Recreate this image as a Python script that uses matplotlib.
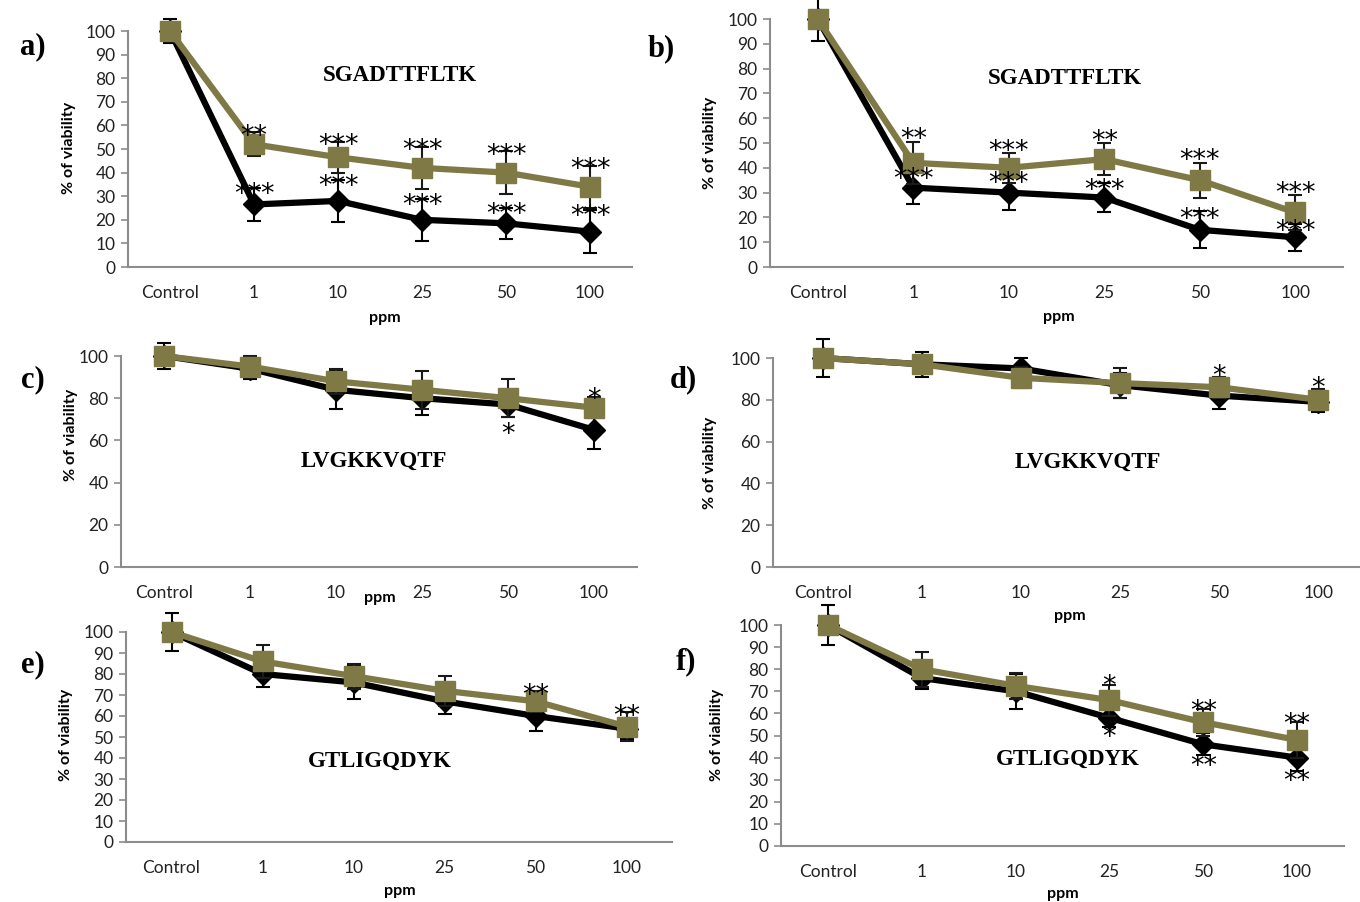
import matplotlib
matplotlib.use("Agg")
import matplotlib.pyplot as plt

categories = ["Control", "1", "10", "25", "50", "100"]

a_black = [100, 26.5, 28, 20, 18.5, 15]
a_black_err = [5, 7, 9, 9, 6.5, 9]
a_khaki = [100, 52, 46.5, 42, 40, 34]
a_khaki_err = [3, 5, 6.5, 9, 9, 9]
a_black_stars = ["", "***", "***", "***", "***", "***"]
a_khaki_stars = ["", "**", "***", "***", "***", "***"]

b_black = [100, 32, 30, 28, 15, 12]
b_black_err = [9, 6.5, 7, 6, 7.5, 5.5]
b_khaki = [100, 42, 40, 43.5, 35, 22]
b_khaki_err = [3, 8.5, 6, 6.5, 7, 7]
b_black_stars = ["", "***", "***", "***", "***", "***"]
b_khaki_stars = ["", "**", "***", "**", "***", "***"]

c_black = [100, 94, 84, 80, 77, 65]
c_black_err = [6, 5, 9, 8, 6, 9]
c_khaki = [100, 95, 88, 84, 80, 75.5]
c_khaki_err = [3, 5, 6, 9, 9, 5]
c_black_stars = ["", "", "", "", "*", ""]
c_khaki_stars = ["", "", "", "", "", "*"]

d_black = [100, 97, 95, 87, 82, 79]
d_black_err = [9, 6, 5, 6, 6.5, 5]
d_khaki = [100, 97, 90.5, 88, 86, 80]
d_khaki_err = [3, 3, 5, 7, 5, 5]
d_black_stars = ["", "", "", "", "", ""]
d_khaki_stars = ["", "", "", "", "*", "*"]

e_black = [100, 80, 76, 67, 60, 54]
e_black_err = [9, 6, 8, 6, 7, 5]
e_khaki = [100, 86, 79, 72, 67, 55]
e_khaki_err = [3, 8, 6, 7, 5, 7]
e_black_stars = ["", "", "", "", "", ""]
e_khaki_stars = ["", "", "", "", "**", "**"]

f_black = [100, 76, 70, 58, 46, 40]
f_black_err = [9, 5, 8, 4, 5, 6]
f_khaki = [100, 80, 72.5, 66, 56, 48]
f_khaki_err = [3, 8, 6, 7, 6, 8]
f_black_stars = ["", "", "", "*", "**", "**"]
f_khaki_stars = ["", "", "", "*", "**", "**"]

peptides = ["SGADTTFLTK", "SGADTTFLTK", "LVGKKVQTF", "LVGKKVQTF", "GTLIGQDYK", "GTLIGQDYK"]
letters = ["a)", "b)", "c)", "d)", "e)", "f)"]

W, H = 1360, 902
KHAKI = "#7f7946"
GRAY = "#8c8c8c"
TICKFONT = "Lato"
STARSIZE = 19.5

fig = plt.figure(figsize=(W / 100, H / 100), dpi=100)


def px_axes(left, top, right, bottom):
    return fig.add_axes([left / W, 1 - bottom / H, (right - left) / W, (bottom - top) / H])


panels = [
    dict(box=(128, 31, 632, 267), step=10, black=a_black, berr=a_black_err, khaki=a_khaki, kerr=a_khaki_err,
         bstars=a_black_stars, kstars=a_khaki_stars, bdir=1, koff=-3, boff=-5, title=(0.54, 0.81),
         letter=(33, 47), ppm=(385, 318), ylab=(69, 148)),
    dict(box=(770, 19, 1343, 267), step=10, black=b_black, berr=b_black_err, khaki=b_khaki, kerr=b_khaki_err,
         bstars=b_black_stars, kstars=b_khaki_stars, bdir=1, koff=1, boff=-6, title=(0.515, 0.76),
         letter=(661, 49), ppm=(1059, 317), ylab=(710, 143)),
    dict(box=(121, 356, 637, 567), step=20, black=c_black, berr=c_black_err, khaki=c_khaki, kerr=c_khaki_err,
         bstars=c_black_stars, kstars=c_khaki_stars, bdir=-1, koff=-2, boff=-13, title=(0.49, 0.50),
         letter=(33, 380), ppm=(380, 598), ylab=(71, 435)),
    dict(box=(773, 358, 1368, 567), step=20, black=d_black, berr=d_black_err, khaki=d_khaki, kerr=d_khaki_err,
         bstars=d_black_stars, kstars=d_khaki_stars, bdir=-1, koff=0, boff=-12, title=(0.53, 0.50),
         letter=(683, 380), ppm=(1070, 616), ylab=(710, 463)),
    dict(box=(126, 632, 672, 842), step=10, black=e_black, berr=e_black_err, khaki=e_khaki, kerr=e_khaki_err,
         bstars=e_black_stars, kstars=e_khaki_stars, bdir=-1, koff=-4, boff=-12, title=(0.465, 0.385),
         letter=(33, 665), ppm=(400, 891), ylab=(66, 735)),
    dict(box=(781, 625, 1344, 846), step=10, black=f_black, berr=f_black_err, khaki=f_khaki, kerr=f_khaki_err,
         bstars=f_black_stars, kstars=f_khaki_stars, bdir=-1, koff=-2, boff=-8, title=(0.51, 0.39),
         letter=(686, 662), ppm=(1063, 894), ylab=(717, 735)),
]

x = list(range(len(categories)))

for i, p in enumerate(panels):
    ax = px_axes(*p["box"])
    ax.set_xlim(-0.5, len(categories) - 0.5)
    ax.set_ylim(0, 100)
    ax.set_yticks(list(range(0, 101, p["step"])))
    ax.set_xticks(x)
    ax.set_xticklabels(categories)
    for s in ["top", "right"]:
        ax.spines[s].set_visible(False)
    for s in ["left", "bottom"]:
        ax.spines[s].set_color(GRAY)
        ax.spines[s].set_linewidth(1.5)
    ax.tick_params(axis="y", length=5, width=1.2, color=GRAY, pad=4, labelsize=12.5)
    ax.tick_params(axis="x", length=0, pad=13, labelsize=12.5)
    for lab in ax.get_xticklabels() + ax.get_yticklabels():
        lab.set_fontfamily(TICKFONT)
        lab.set_color("#222222")

    ax.errorbar(x, p["black"], yerr=p["berr"], fmt="none", ecolor="black", elinewidth=1.5,
                capsize=5, capthick=1.5, zorder=2, clip_on=False)
    ax.plot(x, p["black"], color="black", lw=4.5, marker="D", ms=11, mfc="black", mec="black",
            zorder=3, clip_on=False)
    ax.errorbar(x, p["khaki"], yerr=p["kerr"], fmt="none", ecolor="#1a1a1a", elinewidth=1.5,
                capsize=5, capthick=1.5, zorder=4, clip_on=False)
    ax.plot(x, p["khaki"], color=KHAKI, lw=4.5, marker="s", ms=15, mfc=KHAKI, mec=KHAKI,
            zorder=5, clip_on=False)

    for xi, s, m, e in zip(x, p["kstars"], p["khaki"], p["kerr"]):
        if s:
            ax.annotate(s, (xi, m + e), xytext=(0, p["koff"]), textcoords="offset points",
                        ha="center", va="center", fontsize=STARSIZE, family="DejaVu Sans", zorder=6)
    for xi, s, m, e in zip(x, p["bstars"], p["black"], p["berr"]):
        if s:
            anchor = m + e if p["bdir"] > 0 else m - e
            ax.annotate(s, (xi, anchor), xytext=(0, p["boff"]), textcoords="offset points",
                        ha="center", va="center", fontsize=STARSIZE, family="DejaVu Sans", zorder=6)

    ax.text(p["title"][0], p["title"][1], peptides[i], transform=ax.transAxes, ha="center", va="center",
            fontsize=16.5, fontweight="bold", family="Liberation Serif")

    lx, ly = p["letter"]
    fig.text(lx / W, 1 - ly / H, letters[i], ha="center", va="center", fontsize=22,
             fontweight="bold", family="Liberation Serif")
    px_, py_ = p["ppm"]
    fig.text(px_ / W, 1 - py_ / H, "ppm", ha="center", va="center", fontsize=11.5,
             fontweight="bold", family=TICKFONT)
    yx, yy = p["ylab"]
    fig.text(yx / W, 1 - yy / H, "% of viability", ha="center", va="center", rotation=90,
             fontsize=11.5, fontweight="bold", family=TICKFONT)

fig.savefig("out.png", dpi=100)
